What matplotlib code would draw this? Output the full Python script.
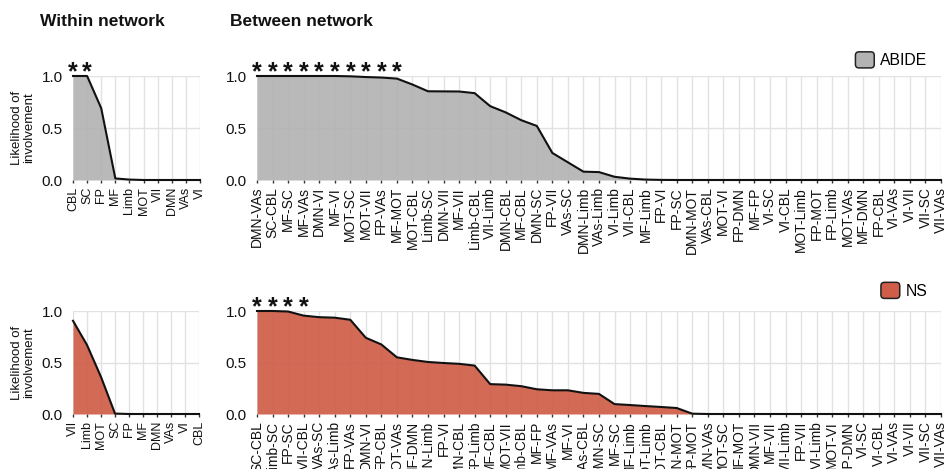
import matplotlib
matplotlib.use("Agg")
import matplotlib.pyplot as plt
from matplotlib.patches import FancyBboxPatch, Patch
from matplotlib.legend_handler import HandlerPatch
from matplotlib.transforms import offset_copy

plt.rcParams['font.family'] = ['Liberation Sans', 'DejaVu Sans']

# ---- data -----------------------------------------------------------------
abide_within_labels = ["CBL", "SC", "FP", "MF", "Limb", "MOT", "VII", "DMN", "VAs", "VI"]
abide_within_values = [1.0, 1.0, 0.69, 0.015, 0.004, 0.0, 0.0, 0.0, 0.0, 0.0]
abide_within_sig = [0, 1]

abide_between_labels = [
    "DMN-VAs", "SC-CBL", "MF-SC", "MF-VAs", "DMN-VI", "MF-VI", "MOT-SC", "MOT-VII",
    "FP-VAs", "MF-MOT", "MOT-CBL", "Limb-SC", "DMN-VII", "MF-VII", "Limb-CBL",
    "VII-Limb", "DMN-CBL", "MF-CBL", "DMN-SC", "FP-VII", "VAs-SC", "DMN-Limb",
    "VAs-Limb", "VI-Limb", "VII-CBL", "MF-Limb", "FP-VI", "FP-SC", "DMN-MOT",
    "VAs-CBL", "MOT-VI", "FP-DMN", "MF-FP", "VI-SC", "VI-CBL", "MOT-Limb", "FP-MOT",
    "FP-Limb", "MOT-VAs", "MF-DMN", "FP-CBL", "VI-VAs", "VI-VII", "VII-SC", "VII-VAs",
]
abide_between_values = [
    1.0, 1.0, 1.0, 1.0, 1.0, 1.0, 0.997, 0.99, 0.985, 0.975,
    0.918, 0.853, 0.852, 0.851, 0.835, 0.71, 0.65, 0.575, 0.52, 0.26,
    0.17, 0.08, 0.076, 0.031, 0.013, 0.004, 0.001, 0.0, 0.0, 0.0,
    0.0, 0.0, 0.0, 0.0, 0.0, 0.0, 0.0, 0.0, 0.0, 0.0,
    0.0, 0.0, 0.0, 0.0, 0.0,
]
abide_between_sig = list(range(10))

ns_within_labels = ["VII", "Limb", "MOT", "SC", "FP", "MF", "DMN", "VAs", "VI", "CBL"]
ns_within_values = [0.905, 0.67, 0.36, 0.004, 0.0, 0.0, 0.0, 0.0, 0.0, 0.0]
ns_within_sig = []

ns_between_labels = [
    "SC-CBL", "Limb-SC", "FP-SC", "VII-CBL", "VAs-SC", "VAs-Limb", "FP-VAs", "DMN-VI",
    "FP-CBL", "MOT-VAs", "MF-DMN", "DMN-Limb", "FP-VI", "DMN-CBL", "FP-Limb",
    "MF-CBL", "MOT-VII", "Limb-CBL", "MF-FP", "MF-VAs", "MF-VI", "VAs-CBL", "DMN-SC",
    "MF-SC", "MF-Limb", "MOT-Limb", "MOT-CBL", "DMN-MOT", "FP-MOT", "DMN-VAs",
    "MOT-SC", "MF-MOT", "DMN-VII", "MF-VII", "VII-Limb", "FP-VII", "VI-Limb",
    "MOT-VI", "FP-DMN", "VI-SC", "VI-CBL", "VI-VAs", "VI-VII", "VII-SC", "VII-VAs",
]
ns_between_values = [
    1.0, 1.0, 0.995, 0.955, 0.94, 0.935, 0.915, 0.74, 0.675, 0.55,
    0.525, 0.505, 0.495, 0.487, 0.47, 0.29, 0.285, 0.27, 0.24, 0.23,
    0.23, 0.205, 0.195, 0.096, 0.087, 0.077, 0.068, 0.058, 0.003, 0.0,
    0.0, 0.0, 0.0, 0.0, 0.0, 0.0, 0.0, 0.0, 0.0, 0.0,
    0.0, 0.0, 0.0, 0.0, 0.0,
]
ns_between_sig = [0, 1, 2, 3]

GRAY = "#b3b3b3"
RED = "#cf5d48"

# ---- figure ---------------------------------------------------------------
W, H = 947, 469
fig = plt.figure(figsize=(W / 100, H / 100), dpi=100)


def px_axes(x0, x1, y_top, y_bot):
    return fig.add_axes([x0 / W, 1 - y_bot / H, (x1 - x0) / W, (y_bot - y_top) / H])


class RoundedBoxHandler(HandlerPatch):
    def create_artists(self, legend, orig_handle, xdescent, ydescent,
                       width, height, fontsize, trans):
        box = FancyBboxPatch((-xdescent, -ydescent), width, height,
                             boxstyle="round,pad=0,rounding_size=%f" % (0.22 * height),
                             facecolor=orig_handle.get_facecolor(),
                             edgecolor=orig_handle.get_edgecolor(),
                             linewidth=orig_handle.get_linewidth(),
                             transform=trans)
        return [box]


def area_panel(ax, labels, values, sig, color, label_size):
    x = list(range(len(labels)))
    ax.set_xlim(0, len(labels) - 1)
    ax.set_ylim(0, 1)
    ax.set_axisbelow(True)
    ax.fill_between(x, values, 0, color=color, alpha=0.92, linewidth=0, zorder=1)
    ax.plot(x, values, color="#111111", lw=1.5, clip_on=False, zorder=3,
            solid_joinstyle="round")
    for s in ax.spines.values():
        s.set_visible(False)
    ax.set_xticks(x)
    ax.set_xticklabels(labels, rotation=90, fontsize=label_size, color="#111111")
    ax.set_yticks([0, 0.5, 1.0])
    ax.set_yticklabels(["0.0", "0.5", "1.0"], fontsize=11, color="#111111")
    ax.tick_params(axis="y", length=0, pad=7.5)
    ax.tick_params(axis="x", length=2.5, width=1, color="#333333", pad=2.5)
    ax.grid(True, color="#e2e2e2", lw=1)
    star_tr = offset_copy(ax.transData, fig=fig, x=0, y=-3.5, units="dots")
    for i in sig:
        ax.text(i, 1.0, "*", transform=star_tr, ha="center", va="baseline",
                fontsize=18, fontweight="bold", color="#111111", clip_on=False)


ax_tl = px_axes(73, 200, 76, 180)
ax_tr = px_axes(257, 941, 76, 180)
ax_bl = px_axes(73, 199, 311, 414)
ax_br = px_axes(257, 941, 311, 414)

area_panel(ax_tl, abide_within_labels, abide_within_values, abide_within_sig, GRAY, 9)
area_panel(ax_tr, abide_between_labels, abide_between_values, abide_between_sig, GRAY, 10)
area_panel(ax_bl, ns_within_labels, ns_within_values, ns_within_sig, RED, 9)
area_panel(ax_br, ns_between_labels, ns_between_values, ns_between_sig, RED, 10)

# legends above the between-network panels
for ax, name, col, yc in [(ax_tr, "ABIDE", GRAY, 60), (ax_br, "NS", RED, 290.5)]:
    handle = Patch(facecolor=col, edgecolor="#222222", linewidth=1.1, label=name)
    ax.legend(handles=[handle], loc="center right",
              bbox_to_anchor=(927 / W, 1 - yc / H), bbox_transform=fig.transFigure,
              frameon=False, borderpad=0, borderaxespad=0, handletextpad=0.35,
              handlelength=1.2, handleheight=1.2, fontsize=11.3,
              handler_map={Patch: RoundedBoxHandler()})

# y labels
for yc in (128, 362.5):
    fig.text(23 / W, 1 - yc / H, "Likelihood of\ninvolvement", rotation=90,
             ha="center", va="center", multialignment="center", fontsize=9.5,
             linespacing=0.95, color="#111111")

# column titles
fig.text(40 / W, 1 - 26 / H, "Within network", ha="left", va="baseline",
         fontsize=12.5, fontweight="bold", color="#111111")
fig.text(230 / W, 1 - 26 / H, "Between network", ha="left", va="baseline",
         fontsize=12.5, fontweight="bold", color="#111111")

fig.savefig("out.png", dpi=100)
